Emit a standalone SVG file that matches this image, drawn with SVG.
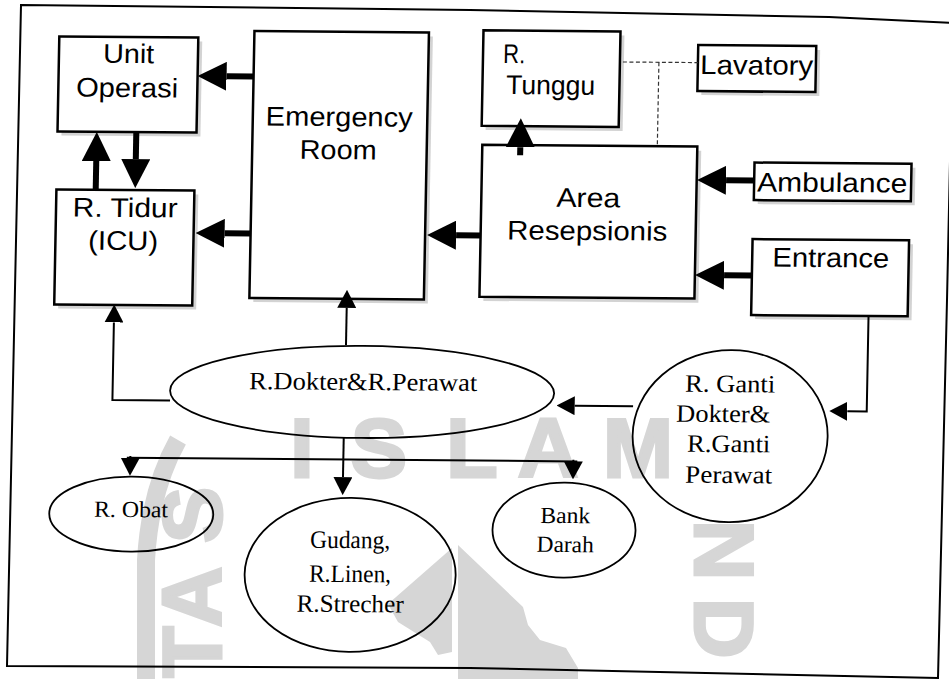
<svg xmlns="http://www.w3.org/2000/svg" width="949" height="679" viewBox="0 0 949 679">
  <style>
    .box { fill: #ffffff; stroke: #000000; stroke-width: 2.5; }
    .shadow { fill: #d3d3d3; stroke: none; }
    .oval { fill: none; stroke: #000000; stroke-width: 1.8; }
    .sans { font-family: "Liberation Sans", Arial, sans-serif; font-size: 27px; fill: #000000; }
    .serif { font-family: "Liberation Serif", "Times New Roman", serif; font-size: 25px; fill: #000000; }
    .small { font-size: 23px; }
    .thick { fill: none; stroke: #000000; stroke-width: 6; }
    .thin { fill: none; stroke: #000000; stroke-width: 2; }
    .dash { fill: none; stroke: #333333; stroke-width: 1.2; stroke-dasharray: 4 2.5; }
    .wm { font-family: "Liberation Sans", Arial, sans-serif; font-weight: bold; font-size: 84px; fill: #d6d6d6; stroke: #d6d6d6; stroke-width: 3; }
    .wmshape { fill: #d6d6d6; stroke: none; }
  </style>
  <defs>
    <marker id="headBig" markerUnits="userSpaceOnUse" markerWidth="29" markerHeight="29" viewBox="0 0 29 29" refX="0" refY="14.5" orient="auto">
      <path d="M0,0 L29,14.5 L0,29 Z" fill="#000000"/>
    </marker>
    <marker id="headSmall" markerUnits="userSpaceOnUse" markerWidth="18" markerHeight="19" viewBox="0 0 18 19" refX="0" refY="9.5" orient="auto">
      <path d="M0,0 L18,9.5 L0,19 Z" fill="#000000"/>
    </marker>
  </defs>

  <rect x="0" y="0" width="949" height="679" fill="#ffffff"/>

  <!-- faint background watermark -->
  <g id="watermark">
    <text class="wm" x="302" y="477" text-anchor="middle">I</text>
    <text class="wm" x="379" y="477" text-anchor="middle">S</text>
    <text class="wm" x="472" y="477" text-anchor="middle">L</text>
    <text class="wm" x="548" y="477" text-anchor="middle">A</text>
    <text class="wm" x="638" y="477" text-anchor="middle">M</text>
    <text class="wm" transform="translate(221,515) rotate(-90)" text-anchor="middle">S</text>
    <text class="wm" transform="translate(221,597) rotate(-90)" text-anchor="middle">A</text>
    <text class="wm" transform="translate(221,652) rotate(-90)" text-anchor="middle">T</text>
    <text class="wm" transform="translate(695,550) rotate(90)" text-anchor="middle">N</text>
    <text class="wm" transform="translate(695,628) rotate(90)" text-anchor="middle">D</text>
    <path class="wmshape" d="M458,545 L523,607 L528,625 L540,640 L566,648 L578,668 L578,679 L458,679 Z"/>
    <path class="wmshape" d="M452,548 L452,652 L438,655 L430,642 L398,622 L388,604 Z"/>
    <path d="M178,440 Q150,490 146,560 L146,679" fill="none" stroke="#d6d6d6" stroke-width="18"/>
  </g>

  <!-- outer frame -->
  <path d="M21,5 L470,10 L829,17 L953,23 L947,300 L938,678 L470,668 L7,666 Z" fill="none" stroke="#000000" stroke-width="2"/>

  <g transform="matrix(1 0.008 -0.019 1 0 0)">
    <g id="unit-operasi">
      <rect class="shadow" x="64" y="40" width="139" height="95"/>
      <rect class="box" x="60" y="36" width="139" height="95"/>
      <text class="sans" x="129.7" y="62" text-anchor="middle" textLength="51" lengthAdjust="spacingAndGlyphs">Unit</text>
      <text class="sans" x="128.8" y="96" text-anchor="middle" textLength="102" lengthAdjust="spacingAndGlyphs">Operasi</text>
    </g>

    <g id="r-tidur">
      <rect class="shadow" x="64" y="193" width="138" height="115"/>
      <rect class="box" x="60" y="189" width="138" height="115"/>
      <text class="sans" x="129.1" y="216" text-anchor="middle" textLength="105" lengthAdjust="spacingAndGlyphs">R. Tidur</text>
      <text class="sans" x="127.8" y="249" text-anchor="middle" textLength="70" lengthAdjust="spacingAndGlyphs">(ICU)</text>
    </g>

    <g id="emergency-room">
      <rect class="shadow" x="259" y="33" width="174.5" height="267"/>
      <rect class="box" x="255" y="29" width="174.5" height="267"/>
      <text class="sans" x="341.4" y="123.3" text-anchor="middle" textLength="147" lengthAdjust="spacingAndGlyphs">Emergency</text>
      <text class="sans" x="341" y="156.3" text-anchor="middle" textLength="77" lengthAdjust="spacingAndGlyphs">Room</text>
    </g>

    <g id="r-tunggu">
      <rect class="shadow" x="488" y="30.5" width="137" height="95.5"/>
      <rect class="box" x="484" y="26.5" width="137" height="95.5"/>
      <text class="sans" x="504.2" y="59" textLength="22" lengthAdjust="spacingAndGlyphs">R.</text>
      <text class="sans" x="507.8" y="90" textLength="89" lengthAdjust="spacingAndGlyphs">Tunggu</text>
    </g>

    <g id="lavatory">
      <rect class="shadow" x="703" y="43.5" width="118" height="46"/>
      <rect class="box" x="699" y="39.5" width="118" height="46"/>
      <text class="sans" x="701.4" y="68.4" textLength="113" lengthAdjust="spacingAndGlyphs">Lavatory</text>
    </g>

    <g id="area-resepsionis">
      <rect class="shadow" x="489" y="145" width="215" height="152"/>
      <rect class="box" x="485" y="141" width="215" height="152"/>
      <text class="sans" x="592" y="202.3" text-anchor="middle" textLength="64" lengthAdjust="spacingAndGlyphs">Area</text>
      <text class="sans" x="591.6" y="235.3" text-anchor="middle" textLength="160" lengthAdjust="spacingAndGlyphs">Resepsionis</text>
    </g>

    <g id="ambulance">
      <rect class="shadow" x="761.5" y="160.5" width="157" height="37.5"/>
      <rect class="box" x="757.5" y="156.5" width="157" height="37.5"/>
      <text class="sans" x="835.6" y="185.3" text-anchor="middle" textLength="150" lengthAdjust="spacingAndGlyphs">Ambulance</text>
    </g>

    <g id="entrance">
      <rect class="shadow" x="761" y="237" width="156.5" height="76"/>
      <rect class="box" x="757" y="233" width="156.5" height="76"/>
      <text class="sans" x="835.6" y="260.4" text-anchor="middle" textLength="117" lengthAdjust="spacingAndGlyphs">Entrance</text>
    </g>

    <g id="r-dokter-perawat">
      <ellipse class="oval" cx="369.5" cy="389" rx="192" ry="46"/>
      <text class="serif" x="370.4" y="387.1" text-anchor="middle" textLength="228" lengthAdjust="spacingAndGlyphs">R.Dokter&amp;R.Perawat</text>
    </g>

    <g id="r-ganti">
      <ellipse class="oval" cx="738.3" cy="430.2" rx="97.5" ry="86"/>
      <text class="serif" x="692.4" y="386.2" textLength="90" lengthAdjust="spacingAndGlyphs">R. Ganti</text>
      <text class="serif" x="684" y="416.2" textLength="94" lengthAdjust="spacingAndGlyphs">Dokter&amp;</text>
      <text class="serif" x="695.6" y="446.2" textLength="83" lengthAdjust="spacingAndGlyphs">R.Ganti</text>
      <text class="serif" x="694.2" y="477.2" textLength="87" lengthAdjust="spacingAndGlyphs">Perawat</text>
    </g>

    <g id="r-obat">
      <ellipse class="oval" cx="141" cy="513" rx="82" ry="37.5"/>
      <text class="serif small" x="140.8" y="516" text-anchor="middle" textLength="74" lengthAdjust="spacingAndGlyphs">R. Obat</text>
    </g>

    <g id="gudang">
      <ellipse class="oval" cx="361" cy="572" rx="105.5" ry="77"/>
      <text class="serif" x="360.4" y="545.2" text-anchor="middle" textLength="80" lengthAdjust="spacingAndGlyphs">Gudang,</text>
      <text class="serif" x="361" y="579.2" text-anchor="middle" textLength="82" lengthAdjust="spacingAndGlyphs">R.Linen,</text>
      <text class="serif" x="361.6" y="609.2" text-anchor="middle" textLength="107" lengthAdjust="spacingAndGlyphs">R.Strecher</text>
    </g>

    <g id="bank-darah">
      <ellipse class="oval" cx="574" cy="525.5" rx="71.5" ry="47.5"/>
      <text class="serif small" x="575" y="518.5" text-anchor="middle" textLength="50" lengthAdjust="spacingAndGlyphs">Bank</text>
      <text class="serif small" x="575.5" y="547.5" text-anchor="middle" textLength="57" lengthAdjust="spacingAndGlyphs">Darah</text>
    </g>

    <!-- connectors drawn last so arrowheads sit on top of the boxes -->
    <g id="connectors">
      <line class="thick" x1="255" y1="74.5" x2="228" y2="74.5" marker-end="url(#headBig)"/>
      <line class="thick" x1="255" y1="231.5" x2="229" y2="231.5" marker-end="url(#headBig)"/>
      <line class="thick" x1="485" y1="231.5" x2="460.5" y2="231.5" marker-end="url(#headBig)"/>
      <line class="thick" x1="99.3" y1="189" x2="99.3" y2="160.2" marker-end="url(#headBig)"/>
      <line class="thick" x1="138.8" y1="130.5" x2="138.8" y2="158" marker-end="url(#headBig)"/>
      <line class="thick" x1="523" y1="151" x2="523" y2="143" marker-end="url(#headBig)"/>
      <line class="thick" x1="757.5" y1="174.4" x2="729.4" y2="174.4" marker-end="url(#headBig)"/>
      <line class="thick" x1="757" y1="269.4" x2="729.2" y2="269.4" marker-end="url(#headBig)"/>

      <polyline class="thin" points="177.6,399 120,399 120,321.5" marker-end="url(#headSmall)"/>
      <line class="thin" x1="352.5" y1="342.2" x2="352.5" y2="305" marker-end="url(#headSmall)"/>
      <line class="thin" x1="352" y1="435.3" x2="352" y2="474.3" marker-end="url(#headSmall)"/>
      <line class="thin" x1="135.5" y1="456.7" x2="586" y2="456.7"/>
      <line class="thin" x1="139" y1="455" x2="139" y2="456.7" marker-end="url(#headSmall)"/>
      <line class="thin" x1="582" y1="455" x2="582" y2="456.7" marker-end="url(#headSmall)"/>
      <line class="thin" x1="640.7" y1="401" x2="582.3" y2="401" marker-end="url(#headSmall)"/>
      <polyline class="thin" points="874.4,310 874.4,404.4 855,404.4" marker-end="url(#headSmall)"/>

      <polyline class="dash" points="624,57 699,57"/>
      <polyline class="dash" points="660,57 660,141.5"/>
    </g>
  </g>
</svg>
